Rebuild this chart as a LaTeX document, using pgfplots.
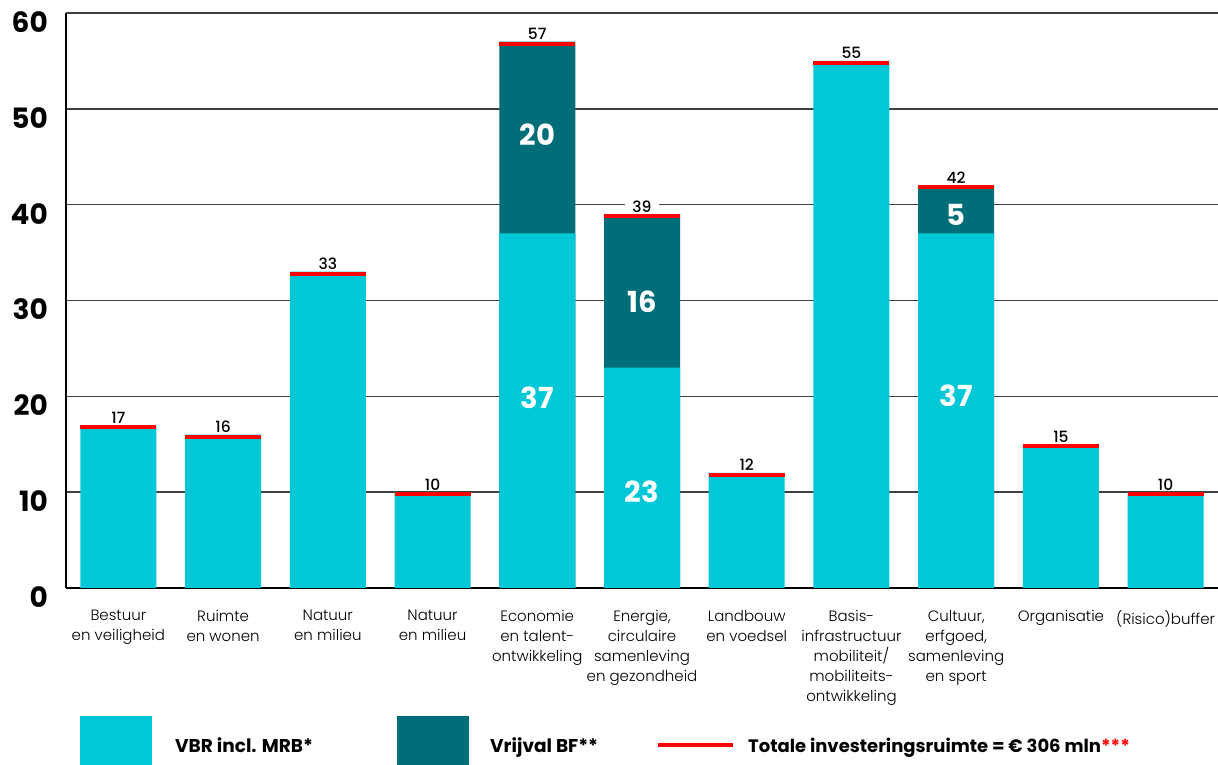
\documentclass[border=0pt]{standalone}
\usepackage{fontspec}
\setmainfont{Poppins}
\newfontfamily\lightfont{Poppins Light}
\newfontfamily\medfont{Poppins Medium}
\usepackage{pgfplots}
\pgfplotsset{compat=1.18}
\definecolor{vbr}{RGB}{0,200,215}
\definecolor{bf}{RGB}{0,110,120}
\definecolor{tot}{RGB}{255,0,0}
\begin{document}
\begin{tikzpicture}
\useasboundingbox (-66pt,-177pt) rectangle (1152pt,588pt);
\begin{axis}[
  at={(0pt,0pt)}, anchor=south west,
  scale only axis, width=1152pt, height=575pt,
  xmin=-0.5, xmax=10.5, ymin=0, ymax=60,
  axis x line*=bottom, axis y line*=left,
  axis line style={black, line width=1.5pt, -},
  ytick={0,10,...,60},
  ymajorgrids, grid style={black!75, line width=1.5pt},
  major tick length=0pt,
  /pgf/number format/assume math mode=true,
  yticklabel style={font=\bfseries\fontsize{28}{30}\selectfont, anchor=east, inner sep=0pt, xshift=-18pt, yshift=-9pt},
  xtick={0,...,10},
  xticklabels={{Bestuur\\en veiligheid},{Ruimte\\en wonen},{Natuur\\en milieu},{Natuur\\en milieu},{Economie\\en talent-\\ontwikkeling},{Energie,\\circulaire\\samenleving\\en gezondheid},{Landbouw\\en voedsel},{Basis-\\infrastructuur\\mobiliteit/\\mobiliteits-\\ontwikkeling},{Cultuur,\\erfgoed,\\samenleving\\en sport},{Organisatie},{(Risico)buffer}},
  xticklabel style={font=\lightfont\fontsize{15}{20}\selectfont, align=center, anchor=north, inner sep=0pt, yshift=-22pt},
  clip=false,
]
% Vrijval BF (drawn as total height, overlapped by VBR below)
\addplot[ybar, bar width=76pt, bar shift=0pt, fill=bf, draw=none] coordinates {(4,57) (5,39) (8,42)};
% VBR incl. MRB
\addplot[ybar, bar width=76pt, bar shift=0pt, fill=vbr, draw=none] coordinates {(0,17) (1,16) (2,33) (3,10) (4,37) (5,23) (6,12) (7,55) (8,37) (9,15) (10,10)};
% Totale investeringsruimte
\addplot[only marks, mark=-, mark size=38pt, mark options={line width=4pt, yshift=-2pt, draw=tot},
  nodes near coords, nodes near coords style={anchor=south, fill=white, inner xsep=7pt, inner ysep=1pt, yshift=1pt, font=\medfont\fontsize{15.5}{15.5}\selectfont, text=black}]
  coordinates {(0,17) (1,16) (2,33) (3,10) (4,57) (5,39) (6,12) (7,55) (8,42) (9,15) (10,10)};
% labels inside segments
\addplot[only marks, mark=none, nodes near coords, point meta=explicit symbolic,
  nodes near coords style={anchor=center, text=white, font=\bfseries\fontsize{29}{30}\selectfont}]
  coordinates {(4,47.3)[20] (4,19.8)[37] (5,29.9)[16] (5,10)[23] (8,38.9)[5] (8,20.1)[37]};
\end{axis}
% legend
\fill[vbr] (14pt,-128pt) rectangle (86pt,-177pt);
\node[anchor=base west, inner sep=0pt, font=\bfseries\fontsize{18.5}{18.5}\selectfont] at (109pt,-165pt) {VBR incl. MRB*};
\fill[bf] (331pt,-128pt) rectangle (403pt,-177pt);
\node[anchor=base west, inner sep=0pt, font=\bfseries\fontsize{18.5}{18.5}\selectfont] at (424pt,-165pt) {Vrijval BF**};
\draw[tot, line width=4pt] (592pt,-157pt) -- (667pt,-157pt);
\node[anchor=base west, inner sep=0pt, font=\bfseries\fontsize{18}{18}\selectfont] at (682pt,-165pt) {Totale investeringsruimte = € 306 mln\textcolor{tot}{***}};
\end{tikzpicture}
\end{document}
